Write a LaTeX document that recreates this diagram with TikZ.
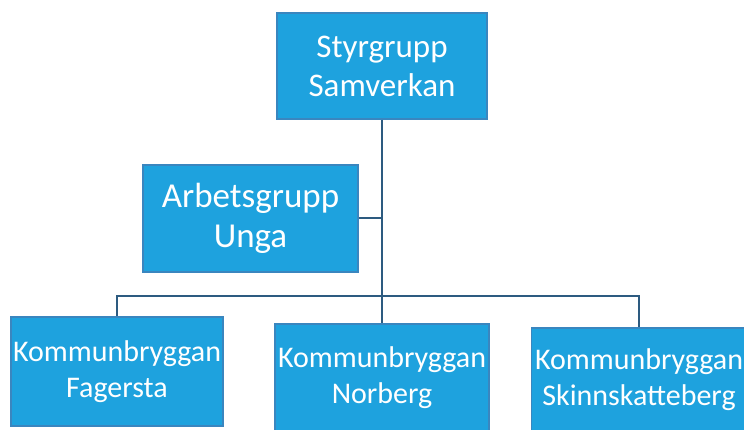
\documentclass[tikz,border=0pt]{standalone}
\usepackage{fontspec}
\setmainfont{Carlito}
\definecolor{boxfill}{HTML}{1EA2DE}
\definecolor{boxline}{HTML}{3A86BF}
\definecolor{conn}{HTML}{2D5B80}
\begin{document}
\begin{tikzpicture}[x=1pt,y=-1pt,
  box/.style={draw=boxline, line width=1.2pt, fill=boxfill, text=white, align=center, inner sep=0pt},
  bigtext/.style={font=\fontsize{33}{39}\selectfont},
  arbtext/.style={font=\fontsize{35}{40}\selectfont},
  smalltext/.style={font=\fontsize{30}{36}\selectfont},
  conline/.style={draw=conn, line width=2pt}]
\useasboundingbox (0,0) rectangle (744,430);
\fill[white] (0,0) rectangle (744,430);
\node[box, bigtext, minimum width=210pt, minimum height=106pt] (top) at (382,66) {Styrgrupp\\Samverkan};
\node[box, arbtext, minimum width=215pt, minimum height=107pt] (arb) at (250.5,218.5) {Arbetsgrupp\\Unga};
\node[box, smalltext, minimum width=212pt, minimum height=109pt] (fag) at (117,371.5) {Kommunbryggan\\Fagersta};
\node[box, smalltext, minimum width=214pt, minimum height=108pt] (nor) at (382,378) {Kommunbryggan\\Norberg};
\node[box, smalltext, minimum width=215pt, minimum height=104pt] (ski) at (639,380) {Kommunbryggan\\Skinnskatteberg};
\coordinate (bus) at (382,296);
\draw[conline] (top.south) -- (nor.north);
\draw[conline] (arb.east) -- (arb.east -| top.south);
\draw[conline] (fag.north) -- (fag.north |- bus) -- (ski.north |- bus) -- (ski.north);
\end{tikzpicture}
\end{document}
